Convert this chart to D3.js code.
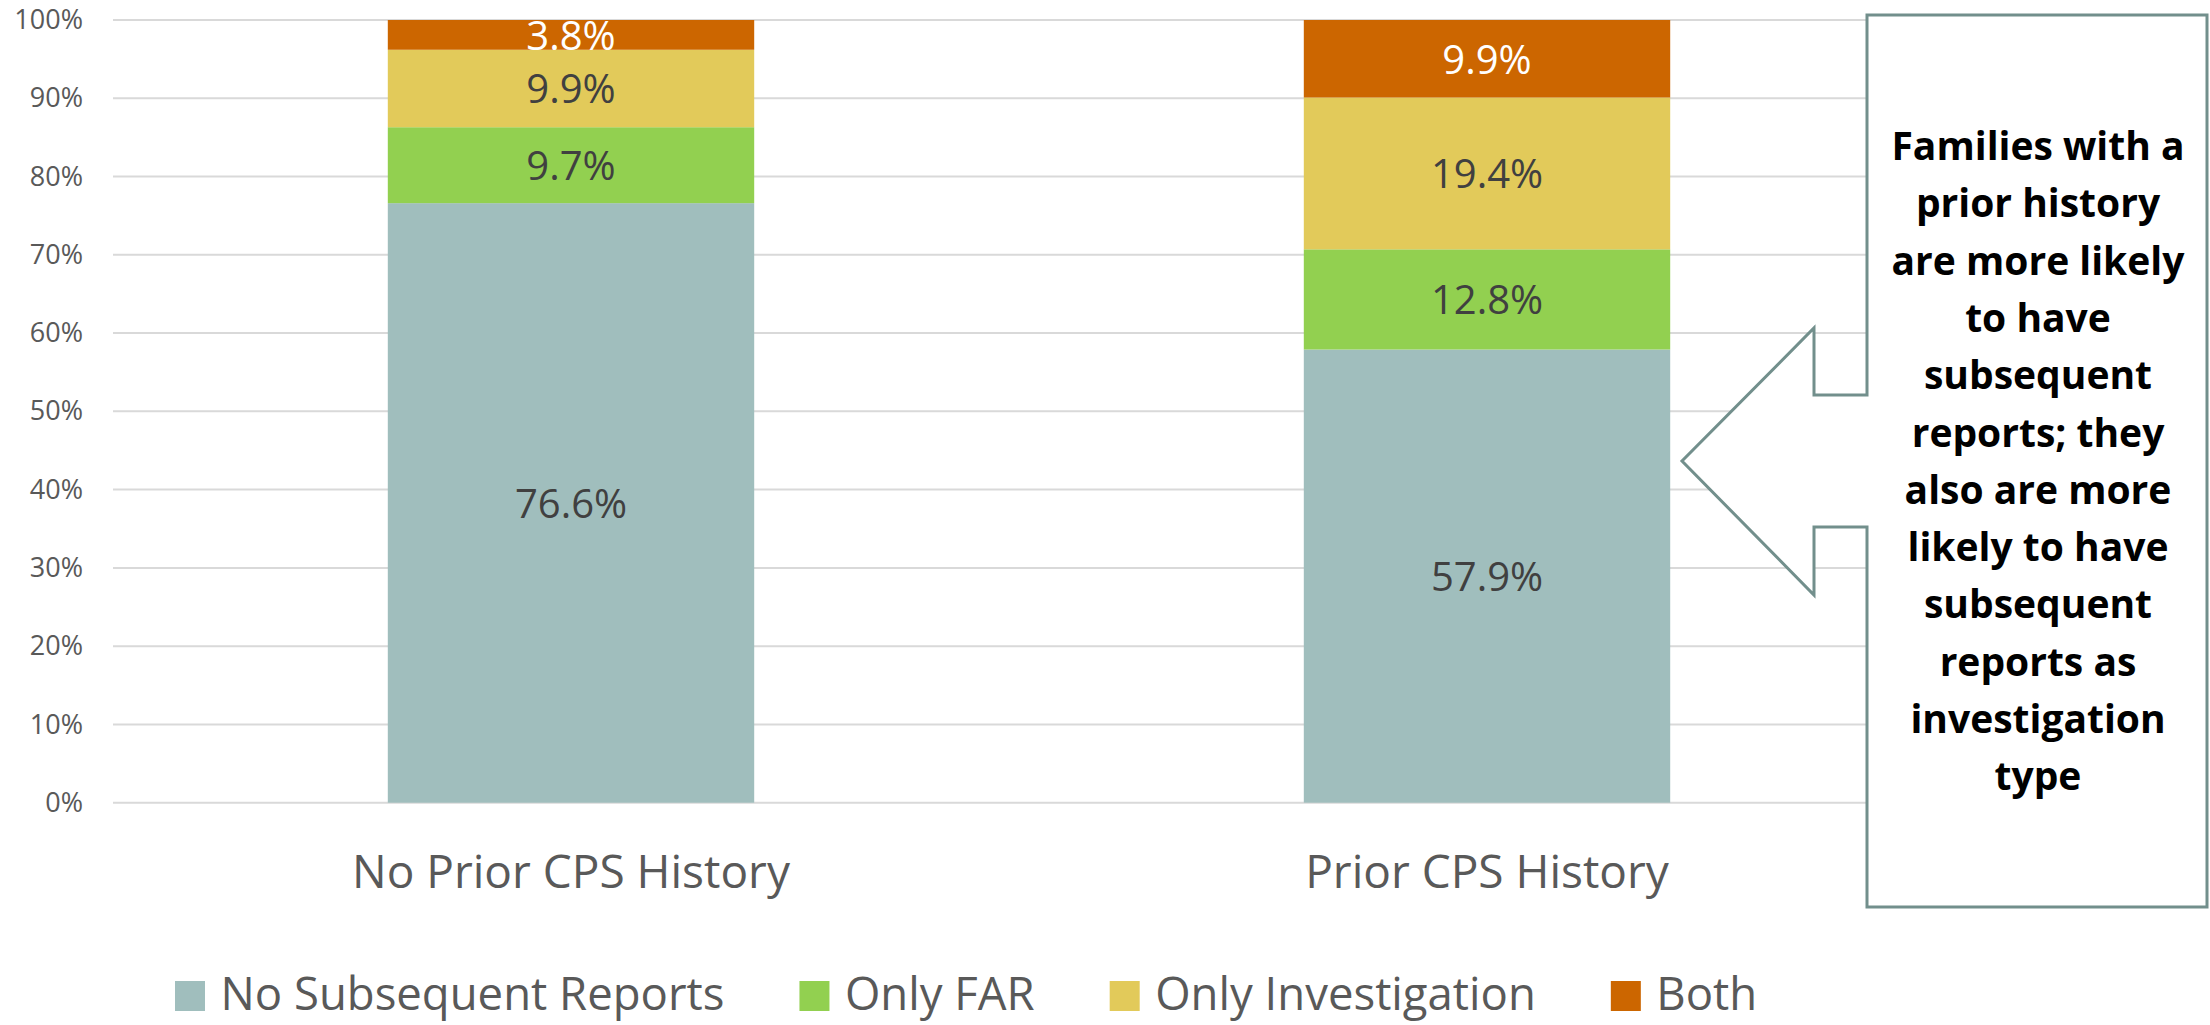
<!DOCTYPE html>
<html>
<head>
<meta charset="utf-8">
<script src="https://cdn.jsdelivr.net/npm/d3@7"></script>
<style>
  html, body { margin: 0; padding: 0; background: #ffffff; }
  svg { display: block; font-family: "Open Sans", "Noto Sans", sans-serif; }
</style>
</head>
<body>
<svg id="chart" width="2210" height="1025"></svg>
<script>
// ---- data ----
const categories = ["No Prior CPS History", "Prior CPS History"];
const seriesNames = ["No Subsequent Reports", "Only FAR", "Only Investigation", "Both"];
const noSubsequentReports = [76.6, 57.9];
const onlyFAR = [9.7, 12.8];
const onlyInvestigation = [9.9, 19.4];
const both = [3.8, 9.9];
const yTickValues = [0, 10, 20, 30, 40, 50, 60, 70, 80, 90, 100];
const calloutLines = [
  "Families with a", "prior history", "are more likely", "to have",
  "subsequent", "reports; they", "also are more", "likely to have",
  "subsequent", "reports as", "investigation", "type"
];

// ---- styles ----
const seriesColors = ["#A0BEBD", "#92D050", "#E2CA5A", "#CC6600"];
const labelColors = ["#404040", "#404040", "#404040", "#FFFFFF"];
const axisColor = "#595959";
const gridColor = "#D9D9D9";
const calloutStroke = "#728F8C";

const svg = d3.select("#chart");
svg.append("rect").attr("width", 2210).attr("height", 1025).attr("fill", "#fff");

const plot = { left: 113, right: 1945, top: 20, bottom: 802.7 };

const x = d3.scaleBand().domain(categories)
  .range([plot.left, plot.right]).paddingInner(0.6).paddingOuter(0.3);
const y = d3.scaleLinear().domain([0, 100]).range([plot.bottom, plot.top]);

// build table for stack
const seriesArrays = [noSubsequentReports, onlyFAR, onlyInvestigation, both];
const table = categories.map((c, i) => {
  const row = { category: c };
  seriesNames.forEach((s, j) => row[s] = seriesArrays[j][i]);
  return row;
});
const stacked = d3.stack().keys(seriesNames)(table);

// gridlines
svg.append("g").selectAll("line").data(yTickValues).join("line")
  .attr("x1", plot.left).attr("x2", plot.right)
  .attr("y1", d => y(d)).attr("y2", d => y(d))
  .attr("stroke", gridColor).attr("stroke-width", 2);

// y axis
const yAxis = svg.append("g").attr("transform", `translate(${plot.left},0)`)
  .call(d3.axisLeft(y).tickValues(yTickValues).tickSize(0).tickPadding(30)
    .tickFormat(d => d + "%"));
yAxis.select(".domain").remove();
yAxis.selectAll("text").attr("font-size", 27).attr("fill", axisColor)
  .attr("font-family", "'Open Sans', sans-serif");

// bars
const layers = svg.append("g").selectAll("g").data(stacked).join("g")
  .attr("fill", (d, i) => seriesColors[i]);
layers.selectAll("rect").data(d => d).join("rect")
  .attr("x", d => x(d.data.category))
  .attr("width", x.bandwidth())
  .attr("y", d => y(d[1]))
  .attr("height", d => y(d[0]) - y(d[1]));

// data labels
stacked.forEach((layer, i) => {
  svg.append("g").selectAll("text").data(layer).join("text")
    .attr("x", d => x(d.data.category) + x.bandwidth() / 2)
    .attr("y", d => (y(d[0]) + y(d[1])) / 2 + 15)
    .attr("text-anchor", "middle")
    .attr("font-size", 40)
    .attr("fill", labelColors[i])
    .text(d => (d[1] - d[0]).toFixed(1) + "%");
});

// category labels
svg.append("g").selectAll("text").data(categories).join("text")
  .attr("x", d => x(d) + x.bandwidth() / 2)
  .attr("y", 888)
  .attr("text-anchor", "middle")
  .attr("font-size", 46)
  .attr("fill", axisColor)
  .text(d => d);

// legend
const legend = svg.append("g");
let lx = 175;
seriesNames.forEach((name, i) => {
  legend.append("rect").attr("x", lx).attr("y", 981).attr("width", 30).attr("height", 30)
    .attr("fill", seriesColors[i]);
  const t = legend.append("text").attr("x", lx + 45.5).attr("y", 1010)
    .attr("font-size", 45.5).attr("fill", axisColor).text(name);
  lx = lx + 45.5 + t.node().getComputedTextLength() + 75;
});

// callout (left arrow callout)
const box = { l: 1867, r: 2207, t: 15, b: 907 };
const arrow = { shaftTop: 395, shaftBot: 527, headX: 1814, headTop: 328, headBot: 595, tipX: 1682, tipY: 461 };
const p = d3.path();
p.moveTo(box.l, box.t);
p.lineTo(box.r, box.t);
p.lineTo(box.r, box.b);
p.lineTo(box.l, box.b);
p.lineTo(box.l, arrow.shaftBot);
p.lineTo(arrow.headX, arrow.shaftBot);
p.lineTo(arrow.headX, arrow.headBot);
p.lineTo(arrow.tipX, arrow.tipY);
p.lineTo(arrow.headX, arrow.headTop);
p.lineTo(arrow.headX, arrow.shaftTop);
p.lineTo(box.l, arrow.shaftTop);
p.closePath();
svg.append("path").attr("d", p.toString())
  .attr("fill", "#fff").attr("stroke", calloutStroke).attr("stroke-width", 3)
  .attr("stroke-linejoin", "miter");

svg.append("g").selectAll("text").data(calloutLines).join("text")
  .attr("x", 2038)
  .attr("y", (d, i) => 160 + i * 57.3)
  .attr("text-anchor", "middle")
  .attr("font-size", 39)
  .attr("font-weight", "bold")
  .attr("fill", "#000")
  .text(d => d);
</script>
</body>
</html>
